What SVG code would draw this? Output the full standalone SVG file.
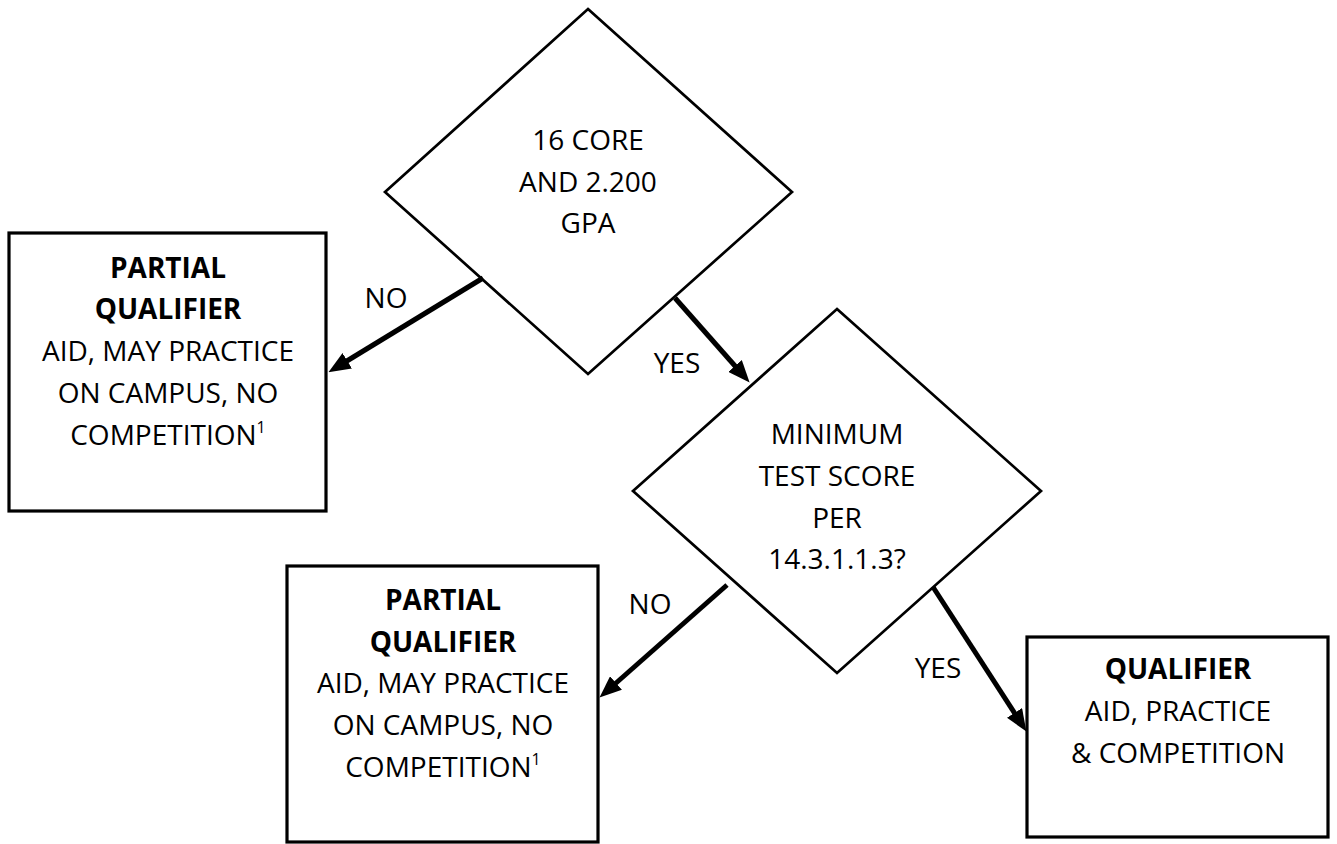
<svg xmlns="http://www.w3.org/2000/svg" width="1337" height="844" viewBox="0 0 1337 844">
<style>
.t{font-family:"Open Sans","Noto Sans","DejaVu Sans",sans-serif;font-size:28px;fill:#000;text-anchor:middle}
.b{font-weight:bold}
.dia{fill:#fff;stroke:#000;stroke-width:2.7}
.box{fill:#fff;stroke:#000;stroke-width:3.2}
.arr{stroke:#000;stroke-width:5;fill:none;marker-end:url(#ah)}
.sup{font-size:16px}
</style>
<defs>
<marker id="ah" markerUnits="userSpaceOnUse" markerWidth="22" markerHeight="18" viewBox="0 0 22 18" refX="12" refY="9" orient="auto">
<path d="M0,0 L22,9 L0,18 Z" fill="#000"/>
</marker>
</defs>
<rect width="1337" height="844" fill="#fff"/>
<g id="d1">
<polygon class="dia" points="588,9 792,192 588,374 385,192"/>
<text class="t" x="588" y="150">16 CORE</text>
<text class="t" x="588" y="192">AND 2.200</text>
<text class="t" x="588" y="233">GPA</text>
</g>
<g id="d2">
<polygon class="dia" points="837,309 1041,491 837,673 633,491"/>
<text class="t" x="837" y="444">MINIMUM</text>
<text class="t" x="837" y="486">TEST SCORE</text>
<text class="t" x="837" y="528">PER</text>
<text class="t" x="837" y="569">14.3.1.1.3?</text>
</g>
<g id="b1">
<rect class="box" x="9" y="233" width="317" height="278"/>
<text class="t b" x="168" y="278">PARTIAL</text>
<text class="t b" x="168" y="319">QUALIFIER</text>
<text class="t" x="168" y="361">AID, MAY PRACTICE</text>
<text class="t" x="168" y="403">ON CAMPUS, NO</text>
<text class="t" x="168" y="445">COMPETITION<tspan class="sup" dy="-12">1</tspan></text>
</g>
<g id="b2">
<rect class="box" x="287" y="566" width="311" height="276"/>
<text class="t b" x="443" y="610">PARTIAL</text>
<text class="t b" x="443" y="652">QUALIFIER</text>
<text class="t" x="443" y="693">AID, MAY PRACTICE</text>
<text class="t" x="443" y="735">ON CAMPUS, NO</text>
<text class="t" x="443" y="777">COMPETITION<tspan class="sup" dy="-12">1</tspan></text>
</g>
<g id="b3">
<rect class="box" x="1027" y="637" width="301" height="200"/>
<text class="t b" x="1178" y="679">QUALIFIER</text>
<text class="t" x="1178" y="721">AID, PRACTICE</text>
<text class="t" x="1178" y="763">&amp; COMPETITION</text>
</g>
<g id="connectors">
<line class="arr" x1="483" y1="278" x2="337" y2="367"/>
<line class="arr" x1="675" y1="298" x2="743" y2="375"/>
<line class="arr" x1="727" y1="585" x2="607" y2="691"/>
<line class="arr" x1="933" y1="587" x2="1021" y2="723"/>
<text class="t" x="386" y="308">NO</text>
<text class="t" x="677" y="373">YES</text>
<text class="t" x="650" y="614">NO</text>
<text class="t" x="938" y="678">YES</text>
</g>
</svg>
